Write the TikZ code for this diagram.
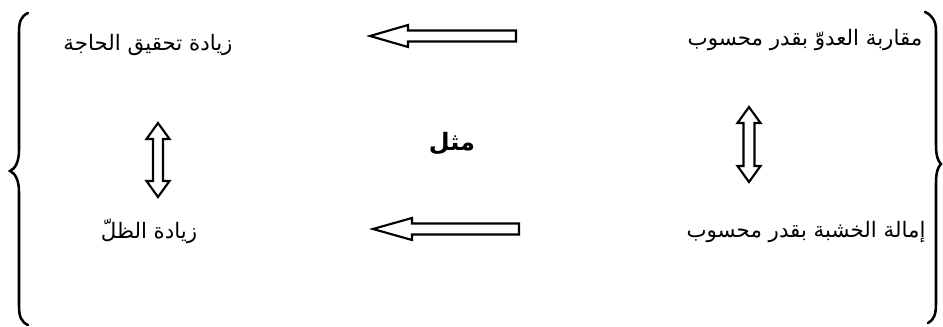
\documentclass[tikz,border=0pt]{standalone}
\usepackage{fontspec}
\TeXXeTstate=1
\newfontfamily\arabicfont[Script=Arabic]{DejaVu Sans}
\begin{document}
\begin{tikzpicture}[x=0.75pt,y=-0.75pt,
  lbl/.style={inner sep=0pt,font=\fontsize{16}{19}\selectfont\arabicfont},
  blockarrow/.style={draw=black,fill=white,line width=1.6pt,line join=miter},
  bracestyle/.style={draw=black,line width=1.9pt,line cap=round}]
\useasboundingbox (0,0) rectangle (943,327);
% braces
\draw[bracestyle] (28,13) .. controls (21,16) and (19,22) .. (19,32)
  -- (19,150) .. controls (19,162) and (15,169) .. (10,171)
  .. controls (15,173) and (19,180) .. (19,192)
  -- (19,306) .. controls (19,316) and (21,322) .. (28,325);
\draw[bracestyle] (925,12) .. controls (932,15) and (936,21) .. (936,31)
  -- (936,145) .. controls (936,156) and (938,161) .. (941,164)
  .. controls (938,167) and (936,172) .. (936,183)
  -- (936,304) .. controls (936,314) and (934,320) .. (928,323);
% texts
\node[lbl] (tl) at (148,45) {\beginR زيادة تحقيق الحاجة\endR};
\node[lbl] (tr) at (805,40) {\beginR مقاربة العدوّ بقدر محسوب\endR};
\node[lbl] (bl) at (149,231) {\beginR زيادة الظلّ\endR};
\node[lbl] (br) at (806,232) {\beginR إمالة الخشبة بقدر محسوب\endR};
\node[lbl,font=\fontsize{18}{21}\selectfont\arabicfont\bfseries] (mid) at (452,144) {\beginR مثل\endR};
% horizontal block arrows
\coordinate (ta) at (516,36);
\draw[blockarrow] (ta) ++(0,-5.5) -- ++(-108,0) -- ++(0,-5.5) -- ++(-38,11) -- ++(38,11) -- ++(0,-5.5) -- ++(108,0) -- cycle;
\coordinate (ba) at (519,229);
\draw[blockarrow] (ba) ++(0,-5.5) -- ++(-107,0) -- ++(0,-5.5) -- ++(-39,11) -- ++(39,11) -- ++(0,-5.5) -- ++(107,0) -- cycle;
% vertical double block arrows
\coordinate (lv) at (158,123);
\draw[blockarrow] (lv) -- ++(11.5,16) -- ++(-6.5,0) -- ++(0,42) -- ++(6.5,0) -- ++(-11.5,16) -- ++(-11.5,-16) -- ++(6.5,0) -- ++(0,-42) -- ++(-6.5,0) -- cycle;
\coordinate (rv) at (749,107);
\draw[blockarrow] (rv) -- ++(11.5,16) -- ++(-6,0) -- ++(0,43) -- ++(6,0) -- ++(-11.5,16) -- ++(-11.5,-16) -- ++(6,0) -- ++(0,-43) -- ++(-6,0) -- cycle;
\end{tikzpicture}
\end{document}
